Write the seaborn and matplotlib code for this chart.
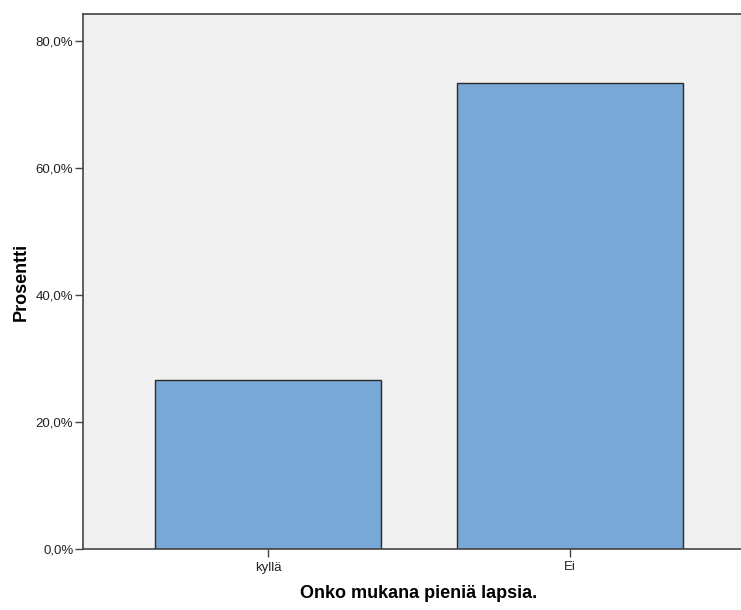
import numpy as np
import pandas as pd
import seaborn as sns
import matplotlib.pyplot as plt
from matplotlib.ticker import FuncFormatter

# luokat ja prosentit
categories = ["kyllä", "Ei"]
percents = [26.6, 73.4]
y_ticks = [0, 20, 40, 60, 80]

df = pd.DataFrame({"luokka": categories, "prosentti": percents})

sns.set_style("white")
plt.rcParams['font.family'] = ['Liberation Sans', 'DejaVu Sans']

fig = plt.figure(figsize=(7.41, 6.10), dpi=100)
ax = fig.add_axes([83 / 741, 0.1, 672 / 741, 0.877])
ax.set_facecolor("#F0F0F0")

sns.barplot(data=df, x="luokka", y="prosentti", color="#79A8D6", saturation=1,
            width=0.75, edgecolor="#2b2b2b", linewidth=1.0, ax=ax)

ax.set_xlim(-0.613, 1.613)
ax.set_ylim(0, 84.25)
ax.set_yticks(y_ticks)
ax.yaxis.set_major_formatter(FuncFormatter(lambda v, p: f"{v:.1f}%".replace(".", ",")))

for side in ["left", "bottom", "top"]:
    ax.spines[side].set_color("#444444")
    ax.spines[side].set_linewidth(1.2)
ax.spines["right"].set_visible(False)

ax.tick_params(axis="both", bottom=True, left=True, direction="out", length=6, width=1,
               color="#444444", labelsize=9.5, labelcolor="#222222", pad=1)
ax.tick_params(axis="x", pad=3)

ax.set_xlabel("Onko mukana pieniä lapsia.", fontsize=13, fontweight="bold",
              color="black", labelpad=8)
ax.set_ylabel("Prosentti", fontsize=13, fontweight="bold", color="black", labelpad=4)

fig.savefig("out.png", dpi=100)
